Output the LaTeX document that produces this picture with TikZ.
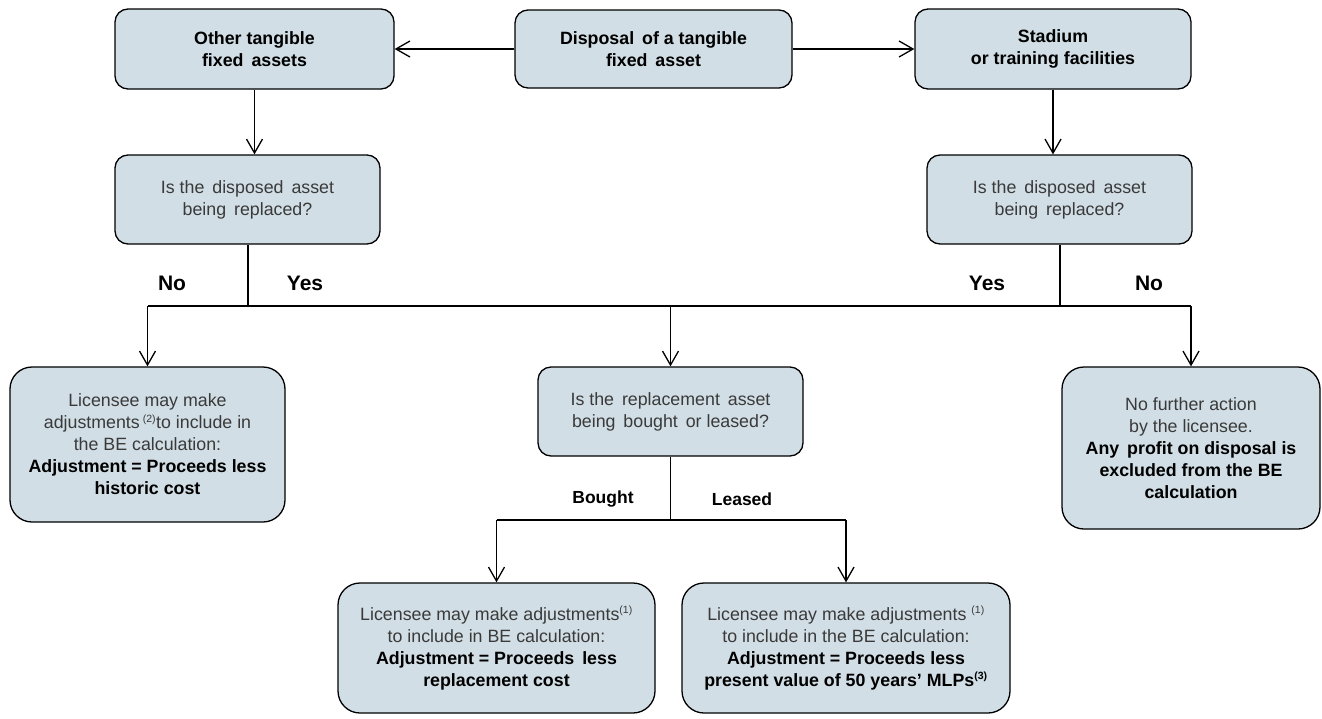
\documentclass[tikz,border=0pt]{standalone}
\usepackage{fontspec}
\setmainfont{Liberation Sans}
\usetikzlibrary{arrows.meta}
\definecolor{boxfill}{HTML}{D1DEE5}
\definecolor{txtgray}{HTML}{3A3A3A}
\tikzset{
  box/.style={draw=black, line width=1.3pt, fill=boxfill, rounded corners=13pt,
    align=center, inner sep=0pt, text=txtgray, font=\fontsize{17.8}{22}\selectfont},
  bigbox/.style={box, rounded corners=22pt},
  wh/.style 2 args={minimum width=#1pt, minimum height=#2pt},
  conn/.style={line width=1.3pt, draw=black},
  arr/.style={conn, -{Straight Barb[length=14pt,width=16pt,line width=1.3pt]}},
  yn/.style={font=\bfseries\fontsize{21}{24}\selectfont, inner sep=0pt},
  bl/.style={font=\bfseries\fontsize{17.5}{20}\selectfont, inner sep=0pt},
}
\newcommand{\bb}[1]{{\bfseries\color{black}#1}}
\newcommand{\sups}[1]{\textsuperscript{\fontsize{10.5}{10.5}\selectfont#1}}
\begin{document}
\begin{tikzpicture}[x=1pt,y=-1pt]
\useasboundingbox (0,0) rectangle (1322,718);
% top row
\node[box, wh={279}{80}] (other) at (254.5,49) {\bb{Other tangible}\\\bb{fixed\, assets}};
\node[box, wh={277}{78}] (disp) at (653.5,49) {\bb{Disposal\, of a tangible}\\\bb{fixed\, asset}};
\node[box, wh={276}{80}] (stad) at (1053,49) {\bb{Stadium}\\\bb{or training facilities}};
% questions
\node[box, wh={265}{89}] (q1) at (247.5,199.5) {Is the\, disposed\, asset\\being\, replaced?};
\node[box, wh={265}{89}] (q2) at (1059.5,199.5) {Is the\, disposed\, asset\\being\, replaced?};
% results row
\node[bigbox, wh={275}{155}] (lres) at (147.5,444.5) {Licensee may make\\adjustments\,\sups{(2)}to include in\\the BE calculation:\\\bb{Adjustment = Proceeds less}\\\bb{historic cost}};
\node[box, wh={265}{89}] (mq) at (670.5,411.5) {Is the\, replacement\, asset\\being\, bought\, or leased?};
\node[bigbox, wh={258}{162}] (rres) at (1191,448) {No further action\\by the licensee.\\\bb{Any\, profit on disposal is}\\\bb{excluded from the BE}\\\bb{calculation}};
% bottom row
\node[bigbox, wh={317}{130}] (bres) at (496.5,648) {Licensee may make adjustments\sups{(1)}\\to include in BE calculation:\\\bb{Adjustment = Proceeds\, less}\\\bb{replacement cost}};
\node[bigbox, wh={328}{130}] (lsres) at (846,648) {Licensee may make adjustments \sups{(1)}\\to include in the BE calculation:\\\bb{Adjustment = Proceeds less}\\\bb{present value of 50 years' MLPs\sups{(3)}}};
% junction coordinates
\coordinate (j1) at (248,306);
\coordinate (j2) at (1060,306);
\coordinate (j3) at (670.5,520);
% connectors top
\draw[arr] (disp.west) -- (other.east);
\draw[arr] (disp.east) -- (stad.east -| stad.west);
\draw[arr] (other.south) -- (other.south |- q1.north);
\draw[arr] (stad.south) -- (stad.south |- q2.north);
% bus 1
\draw[conn] (q1.south -| j1) -- (j1);
\draw[conn] (q2.south -| j2) -- (j2);
\draw[conn] (j1 -| lres.north) -- (j2 -| rres.north);
\draw[arr] (j1 -| lres.north) -- (lres.north);
\draw[arr] (j1 -| mq.north) -- (mq.north);
\draw[arr] (j2 -| rres.north) -- (rres.north);
% bus 2
\draw[conn] (mq.south) -- (j3);
\draw[conn] (j3 -| bres.north) -- (j3 -| lsres.north);
\draw[arr] (j3 -| bres.north) -- (bres.north);
\draw[arr] (j3 -| lsres.north) -- (lsres.north);
% labels
\node[yn] (lno) at (172,283) {No};
\node[yn] (lyes) at (305,283) {Yes};
\node[yn] (ryes) at (987,283) {Yes};
\node[yn] (rno) at (1149,283) {No};
\node[bl] (bought) at (603,499) {Bought};
\node[bl] (leased) at (742,499) {Leased};
\end{tikzpicture}
\end{document}
